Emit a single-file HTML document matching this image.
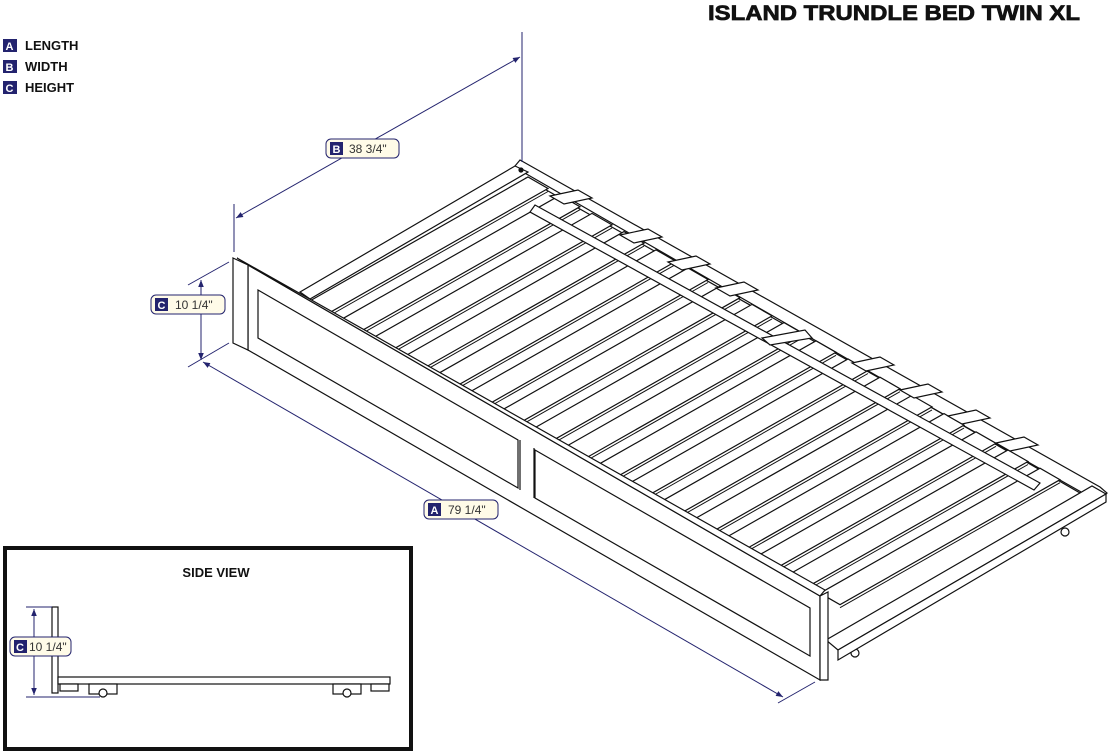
<!DOCTYPE html>
<html><head><meta charset="utf-8"><style>
html,body{margin:0;padding:0;background:#fff;}
svg{display:block;font-family:"Liberation Sans",Arial,sans-serif;}
</style></head><body>
<svg width="1109" height="755" viewBox="0 0 1109 755" xmlns="http://www.w3.org/2000/svg">
<defs>
<marker id="ar" viewBox="0 0 10 10" refX="10" refY="5" markerWidth="7" markerHeight="7" orient="auto-start-reverse"><path d="M0,1 L10,5 L0,9 z" fill="#23236e"/></marker>
<g id="slat">
<polygon points="308,302 528,177 548,188.5 328,313.5" fill="#fff" stroke="#111" stroke-width="1.2"/>
<line x1="328" y1="316.5" x2="548" y2="191.5" stroke="#111" stroke-width="1"/>
</g>
</defs>
<rect width="1109" height="755" fill="#fff"/>
<text x="708" y="20" font-size="21" font-weight="bold" textLength="372" lengthAdjust="spacingAndGlyphs" fill="#111" stroke="#111" stroke-width="0.7">ISLAND TRUNDLE BED TWIN XL</text>
<g font-size="13" font-weight="bold" fill="#111">
<rect x="3" y="39" width="14" height="13" fill="#23236e"/><text x="5.5" y="50" fill="#fff" font-size="11">A</text><text x="25" y="50">LENGTH</text>
<rect x="3" y="60" width="14" height="13" fill="#23236e"/><text x="5.5" y="71" fill="#fff" font-size="11">B</text><text x="25" y="71">WIDTH</text>
<rect x="3" y="81" width="14" height="13" fill="#23236e"/><text x="5.5" y="92" fill="#fff" font-size="11">C</text><text x="25" y="92">HEIGHT</text>
</g>
<g stroke="#111" stroke-width="1.2" fill="#fff">
<polygon points="520,160 1100,487 1107,493 1094,501 523,172 515,166"/>
<line x1="525" y1="178" x2="1090" y2="497"/>
<polygon points="300,292 515,166 528,172 310,299"/>
<circle cx="521" cy="170" r="2" fill="#111"/>
<circle cx="1090" cy="490" r="2" fill="#111"/>
<circle cx="494" cy="205" r="4"/><circle cx="777" cy="368" r="4"/><circle cx="1065" cy="532" r="4"/><circle cx="855" cy="653" r="4"/>
</g>
<g>
<use href="#slat"/>
<use href="#slat" transform="translate(32,18.2)"/>
<use href="#slat" transform="translate(64,36.4)"/>
<use href="#slat" transform="translate(96,54.6)"/>
<use href="#slat" transform="translate(128,72.8)"/>
<use href="#slat" transform="translate(160,91)"/>
<use href="#slat" transform="translate(192,109.2)"/>
<use href="#slat" transform="translate(224,127.4)"/>
<use href="#slat" transform="translate(256,145.6)"/>
<use href="#slat" transform="translate(288,163.8)"/>
<use href="#slat" transform="translate(320,182)"/>
<use href="#slat" transform="translate(352,200.2)"/>
<use href="#slat" transform="translate(384,218.4)"/>
<use href="#slat" transform="translate(416,236.6)"/>
<use href="#slat" transform="translate(448,254.8)"/>
<use href="#slat" transform="translate(480,273)"/>
<use href="#slat" transform="translate(512,291.2)"/>
</g>
<g stroke="#111" stroke-width="1.2" fill="#fff">
<polygon points="535,205 1040,483 1034,490 530,212"/>
<polygon points="550,196 578,190 592,198 564,204"/>
<polygon points="620,235 648,229 662,237 634,243"/>
<polygon points="668,262 696,256 710,264 682,270"/>
<polygon points="716,288 744,282 758,290 730,296"/>
<polygon points="852,363 880,357 894,365 866,371"/>
<polygon points="900,390 928,384 942,392 914,398"/>
<polygon points="948,416 976,410 990,418 962,424"/>
<polygon points="996,443 1024,437 1038,445 1010,451"/>
<polygon points="762,338 805,330 812,338 770,345"/>
<polygon points="826,640 1092,486 1106,494 838,650"/>
<polygon points="838,650 1106,494 1106,502 838,660"/>
<polygon points="248,265 820,596 820,680 248,350"/>
<polygon points="237,258 825,590 820,596 248,265"/>
<polygon points="258,290 518,440 518,488 258,338"/>
<polygon points="535,450 810,608 810,656 535,498"/>
<line x1="520" y1="440" x2="520" y2="490"/>
<line x1="534" y1="448" x2="534" y2="498"/>
<polygon points="233,258 248,265 248,350 233,343"/>
<polygon points="820,596 828,592 828,680 820,680"/>
</g>
<g stroke="#23236e" stroke-width="1" fill="none">
<line x1="234" y1="204" x2="234" y2="252"/>
<line x1="522" y1="32" x2="522" y2="162"/>
<line x1="236" y1="218" x2="520" y2="57" marker-start="url(#ar)" marker-end="url(#ar)"/>
<line x1="188" y1="285" x2="229" y2="262"/>
<line x1="188" y1="367" x2="229" y2="343"/>
<line x1="201" y1="280" x2="201" y2="360" marker-start="url(#ar)" marker-end="url(#ar)"/>
<line x1="203" y1="362" x2="783" y2="697" marker-start="url(#ar)" marker-end="url(#ar)"/>
<line x1="778" y1="703" x2="815" y2="682"/>
</g>
<g font-size="12">
<rect x="326" y="139" width="73" height="19" rx="5" fill="#fffbe8" stroke="#23236e"/>
<rect x="330" y="142" width="13" height="13" fill="#23236e"/><text x="332.5" y="153" fill="#fff" font-weight="bold" font-size="11">B</text><text x="349" y="153" fill="#333">38 3/4"</text>
<rect x="151" y="295" width="74" height="19" rx="5" fill="#fffbe8" stroke="#23236e"/>
<rect x="155" y="298" width="13" height="13" fill="#23236e"/><text x="157.5" y="309" fill="#fff" font-weight="bold" font-size="11">C</text><text x="175" y="309" fill="#333">10 1/4"</text>
<rect x="424" y="500" width="74" height="19" rx="5" fill="#fffbe8" stroke="#23236e"/>
<rect x="428" y="503" width="13" height="13" fill="#23236e"/><text x="430.5" y="514" fill="#fff" font-weight="bold" font-size="11">A</text><text x="448" y="514" fill="#333">79 1/4"</text>
</g>
<rect x="5" y="548" width="406" height="201" fill="#fff" stroke="#111" stroke-width="4"/>
<text x="216" y="577" font-size="13" font-weight="bold" text-anchor="middle" fill="#111">SIDE VIEW</text>
<g stroke="#111" stroke-width="1.2" fill="#fff">
<rect x="52" y="607" width="6" height="86"/>
<rect x="58" y="677" width="332" height="7"/>
<rect x="60" y="684" width="18" height="7"/>
<rect x="371" y="684" width="18" height="7"/>
<rect x="89" y="684" width="28" height="10"/>
<rect x="333" y="684" width="28" height="10"/>
<circle cx="103" cy="693" r="4"/>
<circle cx="347" cy="693" r="4"/>
</g>
<g stroke="#23236e" stroke-width="1" fill="none">
<line x1="26" y1="607" x2="52" y2="607"/>
<line x1="26" y1="697" x2="100" y2="697"/>
<line x1="34" y1="609" x2="34" y2="695" marker-start="url(#ar)" marker-end="url(#ar)"/>
</g>
<rect x="10" y="637" width="61" height="19" rx="5" fill="#fffbe8" stroke="#23236e"/>
<rect x="14" y="640" width="13" height="13" fill="#23236e"/><text x="16" y="651" fill="#fff" font-weight="bold" font-size="11">C</text><text x="29" y="651" fill="#333" font-size="12">10 1/4"</text>
</svg>
</body></html>
